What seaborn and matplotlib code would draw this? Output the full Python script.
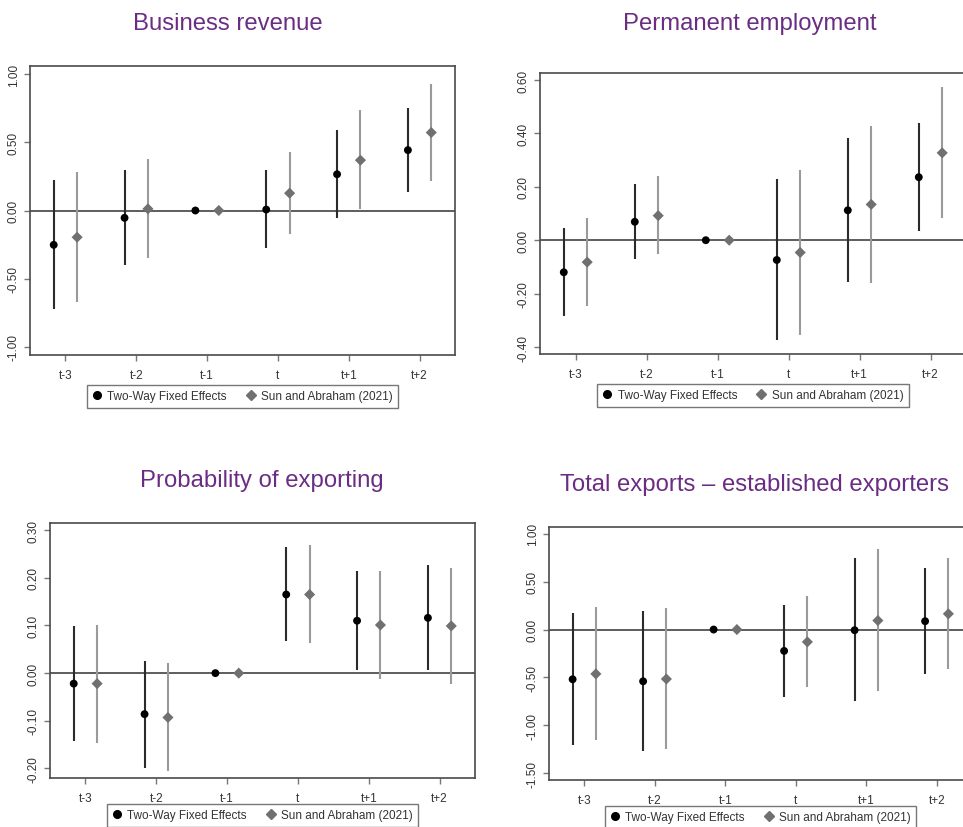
import numpy as np
import pandas as pd
import matplotlib
matplotlib.use("Agg")
import matplotlib.pyplot as plt
from matplotlib.lines import Line2D
from matplotlib.ticker import FixedLocator, StrMethodFormatter
import seaborn as sns

# ---------------------------------------------------------------- data
periods = ["t-3", "t-2", "t-1", "t", "t+1", "t+2"]
estimators = ["Two-Way Fixed Effects", "Sun and Abraham (2021)"]

# Business revenue
rev_twfe = [-0.252, -0.054, 0.0, 0.007, 0.266, 0.443]
rev_twfe_lo = [-0.724, -0.399, 0.0, -0.276, -0.056, 0.137]
rev_twfe_hi = [0.227, 0.296, 0.0, 0.296, 0.594, 0.753]
rev_sa = [-0.196, 0.012, 0.0, 0.127, 0.369, 0.572]
rev_sa_lo = [-0.670, -0.347, 0.0, -0.174, 0.010, 0.215]
rev_sa_hi = [0.284, 0.381, 0.0, 0.430, 0.736, 0.930]

# Permanent employment
emp_twfe = [-0.120, 0.069, 0.0, -0.074, 0.112, 0.236]
emp_twfe_lo = [-0.283, -0.072, 0.0, -0.372, -0.156, 0.035]
emp_twfe_hi = [0.044, 0.212, 0.0, 0.228, 0.382, 0.438]
emp_sa = [-0.082, 0.092, 0.0, -0.046, 0.134, 0.327]
emp_sa_lo = [-0.247, -0.052, 0.0, -0.356, -0.159, 0.084]
emp_sa_hi = [0.082, 0.241, 0.0, 0.263, 0.428, 0.572]

# Probability of exporting
prob_twfe = [-0.022, -0.086, 0.0, 0.165, 0.110, 0.116]
prob_twfe_lo = [-0.142, -0.198, 0.0, 0.067, 0.006, 0.006]
prob_twfe_hi = [0.099, 0.025, 0.0, 0.265, 0.215, 0.226]
prob_sa = [-0.022, -0.093, 0.0, 0.165, 0.101, 0.099]
prob_sa_lo = [-0.147, -0.205, 0.0, 0.064, -0.012, -0.023]
prob_sa_hi = [0.101, 0.022, 0.0, 0.269, 0.214, 0.220]

# Total exports - established exporters
exp_twfe = [-0.519, -0.540, 0.0, -0.223, -0.007, 0.087]
exp_twfe_lo = [-1.202, -1.265, 0.0, -0.700, -0.749, -0.467]
exp_twfe_hi = [0.171, 0.192, 0.0, 0.258, 0.742, 0.645]
exp_sa = [-0.463, -0.516, 0.0, -0.129, 0.094, 0.164]
exp_sa_lo = [-1.153, -1.247, 0.0, -0.599, -0.645, -0.411]
exp_sa_hi = [0.233, 0.226, 0.0, 0.348, 0.836, 0.742]

titles = ["Business revenue", "Permanent employment",
          "Probability of exporting", "Total exports \u2013 established exporters"]
yticks_list = [
    [-1.0, -0.5, 0.0, 0.5, 1.0],
    [-0.4, -0.2, 0.0, 0.2, 0.4, 0.6],
    [-0.2, -0.1, 0.0, 0.1, 0.2, 0.3],
    [-1.5, -1.0, -0.5, 0.0, 0.5, 1.0],
]

# ---------------------------------------------------------------- style
sns.set_theme(style="ticks")
plt.rcParams["font.family"] = ["Liberation Sans", "DejaVu Sans"]
plt.rcParams["axes.unicode_minus"] = False

PURPLE = "#6B2D84"
TEXT = "#333333"
SPINE = "#4a4a4a"
marker_color = {estimators[0]: "#000000", estimators[1]: "#707070"}
bar_color = {estimators[0]: "#2b2b2b", estimators[1]: "#9a9a9a"}
marker_shape = {estimators[0]: "o", estimators[1]: "D"}
offset = {estimators[0]: -0.165, estimators[1]: 0.165}

W, H = 963, 828
fig = plt.figure(figsize=(W / 100, H / 100), dpi=100)
fig.patch.set_facecolor("white")


def frame(est, lo, hi, name):
    return pd.DataFrame({"period": periods, "estimator": name,
                         "est": est, "lo": lo, "hi": hi})


panels = [
    pd.concat([frame(rev_twfe, rev_twfe_lo, rev_twfe_hi, estimators[0]),
               frame(rev_sa, rev_sa_lo, rev_sa_hi, estimators[1])]),
    pd.concat([frame(emp_twfe, emp_twfe_lo, emp_twfe_hi, estimators[0]),
               frame(emp_sa, emp_sa_lo, emp_sa_hi, estimators[1])]),
    pd.concat([frame(prob_twfe, prob_twfe_lo, prob_twfe_hi, estimators[0]),
               frame(prob_sa, prob_sa_lo, prob_sa_hi, estimators[1])]),
    pd.concat([frame(exp_twfe, exp_twfe_lo, exp_twfe_hi, estimators[0]),
               frame(exp_sa, exp_sa_lo, exp_sa_hi, estimators[1])]),
]

# axes boxes in pixels: left, top, right, bottom
boxes = [(30, 67, 455, 356), (540, 74, 966, 355),
         (50, 524, 475, 779), (549, 528, 972, 781)]
ylims = [(-1.06, 1.06), (-0.426, 0.626), (-0.22, 0.315), (-1.57, 1.07)]
title_pos = [(228, 29.5), (750, 30), (262, 487), (754, 491)]
legend_gap = [30, 30, 26, 26]

for df, box, ylim, yt, title, tpos, gap in zip(panels, boxes, ylims,
                                               yticks_list, titles,
                                               title_pos, legend_gap):
    l, t, r, b = box
    ax = fig.add_axes([l / W, 1 - b / H, (r - l) / W, (b - t) / H])
    df = df.copy()
    df["xpos"] = df["period"].map(periods.index) + df["estimator"].map(offset)

    ax.axhline(0, color="#505050", lw=1.3, zorder=1)
    ax.vlines(df["xpos"], df["lo"], df["hi"],
              colors=df["estimator"].map(bar_color), lw=1.5, zorder=2)
    sns.scatterplot(data=df, x="xpos", y="est", hue="estimator",
                    style="estimator", palette=marker_color,
                    markers=marker_shape, s=32, edgecolor="none",
                    legend=False, ax=ax, zorder=3)

    ax.set_xlim(-0.5, 5.5)
    ax.set_ylim(*ylim)
    ax.xaxis.set_major_locator(FixedLocator(range(len(periods))))
    ax.set_xticklabels(periods)
    ax.yaxis.set_major_locator(FixedLocator(yt))
    ax.yaxis.set_major_formatter(StrMethodFormatter("{x:.2f}"))
    ax.set_xlabel("")
    ax.set_ylabel("")
    for s in ax.spines.values():
        s.set_visible(True)
        s.set_color(SPINE)
        s.set_linewidth(1.2)
    ax.tick_params(axis="both", direction="out", length=4, width=1,
                   color="#777777", labelsize=8.5, labelcolor=TEXT)
    ax.tick_params(axis="x", pad=6)
    ax.tick_params(axis="y", pad=3.5)
    for lbl in ax.get_yticklabels():
        lbl.set_rotation(90)
        lbl.set_va("center")

    handles = [Line2D([], [], ls="none", marker=marker_shape[e],
                      color=marker_color[e],
                      markersize=5.5 if e == estimators[0] else 5)
               for e in estimators]
    leg = ax.legend(handles, estimators, loc="upper center",
                    bbox_to_anchor=(0.5, -(gap / (b - t))), ncol=2,
                    frameon=True, fancybox=False, fontsize=8.5,
                    handlelength=0.8, handletextpad=0.5, columnspacing=1.6,
                    borderpad=0.45, borderaxespad=0)
    leg.get_frame().set_edgecolor("#555555")
    leg.get_frame().set_linewidth(1.0)
    for txt in leg.get_texts():
        txt.set_color(TEXT)

    fig.text(tpos[0] / W, 1 - tpos[1] / H, title, ha="center",
             va="baseline", fontsize=17.2, color=PURPLE)

fig.savefig("out.png", dpi=100)
